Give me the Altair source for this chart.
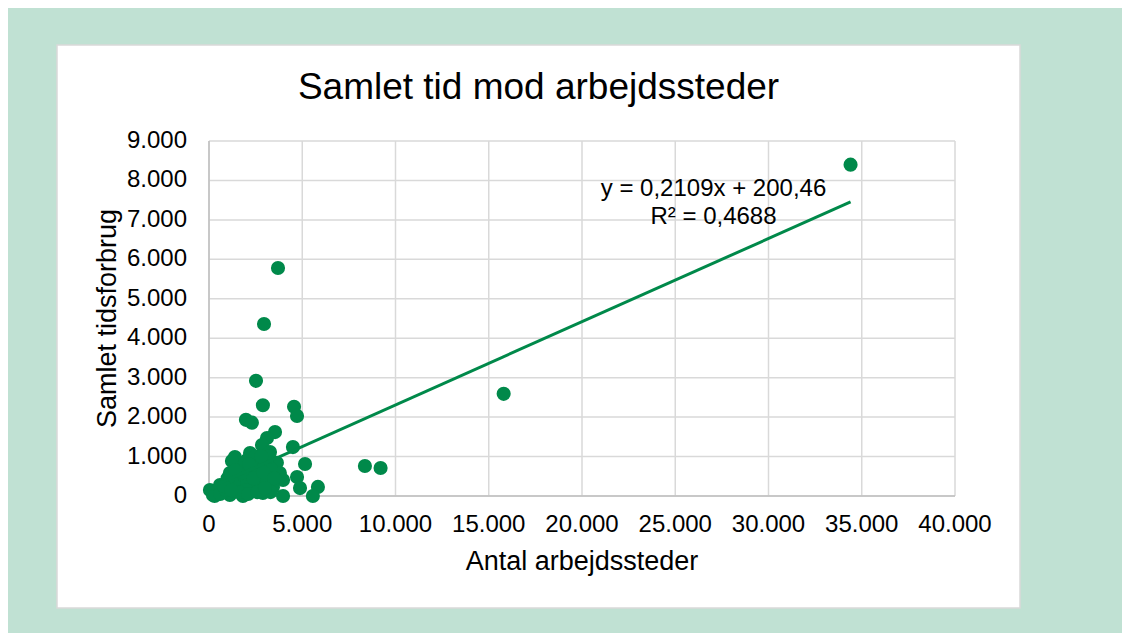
import altair as alt
import pandas as pd

# Data
x_vals = [34400, 15800, 8360, 9200, 3700, 2950, 2520, 2890, 4560, 4720,
          1980, 2300, 3540, 3110, 2840, 4500, 1390, 2200, 3270, 3640,
          5150, 4720, 4880, 5840, 5570, 3970, 210, 50, 590, 960,
          1120, 1660, 2360, 2890, 3800, 3970, 3430, 2890, 1820, 1120,
          2570, 1500, 2040, 3110, 750, 300, 1230, 2040, 2600, 1700,
          2200, 2700, 3300, 1400, 2300, 3000, 1900, 2500, 3200, 600,
          900, 2000, 2700, 1600, 1300, 1800, 2400, 2900, 3500, 1600,
          2100, 2600, 3300, 1000, 1400, 2800, 2150, 3000, 800, 1200]
y_vals = [8400, 2590, 760, 710, 5780, 4360, 2920, 2300, 2260, 2030,
          1930, 1860, 1620, 1470, 1290, 1240, 990, 1090, 1115, 840,
          810, 480, 200, 230, 0, 0, 25, 150, 280, 355,
          580, 710, 735, 840, 580, 405, 230, 76, 0, 25,
          230, 230, 456, 456, 100, 0, 890, 910, 950, 400,
          600, 500, 700, 150, 300, 350, 800, 1000, 1000, 50,
          150, 150, 650, 550, 300, 600, 450, 600, 450, 100,
          50, 100, 100, 450, 650, 1000, 800, 200, 250, 150]

x_ticks = [0, 5000, 10000, 15000, 20000, 25000, 30000, 35000, 40000]
x_labels = ["0", "5.000", "10.000", "15.000", "20.000", "25.000", "30.000", "35.000", "40.000"]
y_ticks = [0, 1000, 2000, 3000, 4000, 5000, 6000, 7000, 8000, 9000]
y_labels = ["0", "1.000", "2.000", "3.000", "4.000", "5.000", "6.000", "7.000", "8.000", "9.000"]

# Trendline as printed on the chart: y = 0,2109x + 200,46
slope = 0.2109
intercept = 200.46
trend_x = [200, 34400]

title_text = "Samlet tid mod arbejdssteder"
x_title = "Antal arbejdssteder"
y_title = "Samlet tidsforbrug"
eq_lines = ["y = 0,2109x + 200,46", "R² = 0,4688"]

GREEN = "#00894A"
FRAME = "#C0E1D3"
GRID = "#d9d9d9"
AXIS = "#bfbfbf"
FONT = "Liberation Sans"
W, H = 746, 355

pts = pd.DataFrame({"x": x_vals, "y": y_vals})
trend = pd.DataFrame({"x": trend_x, "y": [slope * v + intercept for v in trend_x]})
xgrid = pd.DataFrame({"v": x_ticks, "lab": x_labels})
ygrid = pd.DataFrame({"v": y_ticks, "lab": y_labels})
one = pd.DataFrame({"a": [0]})

xsc = alt.Scale(domain=[0, 40000], nice=False, zero=True)
ysc = alt.Scale(domain=[0, 9000], nice=False, zero=True)


def strip(x0, x1, y0, y1):
    return alt.Chart(one).mark_rect(fill=FRAME, stroke=None).encode(
        x=alt.value(x0), x2=alt.value(x1), y=alt.value(y0), y2=alt.value(y1)
    )


frame = [
    strip(-210, -152, -140, 500),
    strip(811, 920, -140, 500),
    strip(-210, 920, -140, -96),
    strip(-210, 920, 467, 500),
]
border = alt.Chart(one).mark_rect(fill=None, stroke=GRID, strokeWidth=1.5).encode(
    x=alt.value(-152), x2=alt.value(811), y=alt.value(-96), y2=alt.value(467)
)

vlines = alt.Chart(xgrid).mark_rule(color=GRID, strokeWidth=1.5).encode(
    x=alt.X("v:Q", scale=xsc, axis=None), y=alt.value(0), y2=alt.value(H)
)
hlines = alt.Chart(ygrid).mark_rule(color=GRID, strokeWidth=1.5).encode(
    y=alt.Y("v:Q", scale=ysc, axis=None), x=alt.value(0), x2=alt.value(W)
)
xaxis_line = alt.Chart(one).mark_rule(color=AXIS, strokeWidth=1.5).encode(
    x=alt.value(0), x2=alt.value(W), y=alt.value(H)
)
yaxis_line = alt.Chart(one).mark_rule(color=AXIS, strokeWidth=1.5).encode(
    x=alt.value(0), y=alt.value(0), y2=alt.value(H)
)

xlab = alt.Chart(xgrid).mark_text(
    font=FONT, fontSize=24, color="#000", align="center", baseline="middle"
).encode(x=alt.X("v:Q", scale=xsc, axis=None), y=alt.value(H + 29), text="lab:N")
ylab = alt.Chart(ygrid).mark_text(
    font=FONT, fontSize=24, color="#000", align="right", baseline="middle"
).encode(y=alt.Y("v:Q", scale=ysc, axis=None), x=alt.value(-22), text="lab:N")

xtit = alt.Chart(one).mark_text(
    text=x_title, font=FONT, fontSize=27, color="#000", align="center", baseline="middle"
).encode(x=alt.value(373), y=alt.value(421))
ytit = alt.Chart(one).mark_text(
    text=y_title, font=FONT, fontSize=27, color="#000", align="center", baseline="middle", angle=270
).encode(x=alt.value(-101), y=alt.value(177.5))

points = alt.Chart(pts).mark_circle(size=200, color=GREEN, opacity=1).encode(
    x=alt.X("x:Q", scale=xsc, axis=None),
    y=alt.Y("y:Q", scale=ysc, axis=None),
)

line = alt.Chart(trend).mark_line(color=GREEN, strokeWidth=3).encode(
    x=alt.X("x:Q", scale=xsc, axis=None), y=alt.Y("y:Q", scale=ysc, axis=None)
)

title = alt.Chart(one).mark_text(
    text=title_text, font=FONT, fontSize=37, color="#000", align="center", baseline="middle"
).encode(x=alt.value(329.5), y=alt.value(-53))

eq1 = alt.Chart(one).mark_text(
    text=eq_lines[0], font=FONT, fontSize=24, color="#000", align="center", baseline="middle"
).encode(x=alt.value(504.5), y=alt.value(48))
eq2 = alt.Chart(one).mark_text(
    text=eq_lines[1], font=FONT, fontSize=24, color="#000", align="center", baseline="middle"
).encode(x=alt.value(504.5), y=alt.value(76))

chart = alt.layer(*frame, border, vlines, hlines, xaxis_line, yaxis_line, xlab, ylab, xtit, ytit,
                  points, line, title, eq1, eq2).properties(
    width=W, height=H,
    autosize=alt.AutoSizeParams(type="none"),
    padding={"left": 201, "top": 133, "right": 167, "bottom": 137},
    background="white",
).configure_view(stroke=None)

chart.save("out.html", embed_options={"renderer": "svg", "actions": False})
